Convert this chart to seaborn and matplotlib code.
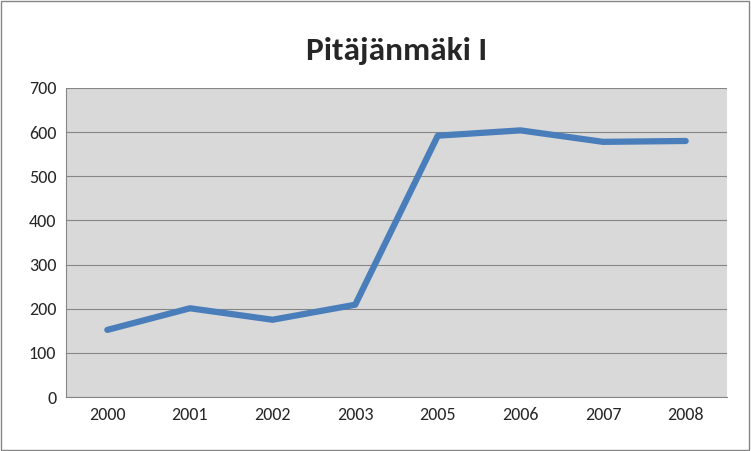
import matplotlib
matplotlib.use("Agg")
import matplotlib.pyplot as plt
import seaborn as sns
import pandas as pd

years = ["2000", "2001", "2002", "2003", "2005", "2006", "2007", "2008"]
values = [152, 201, 175, 209, 592, 604, 578, 580]
title = "Pitäjänmäki I"

sns.set_style("white")
plt.rcParams['font.family'] = ['Calibri', 'Carlito', 'Lato', 'DejaVu Sans']

df = pd.DataFrame({"year": years, "value": values})

fig = plt.figure(figsize=(7.51, 4.51), dpi=100)
ax = fig.add_axes([66 / 751, 54 / 451, 661 / 751, 309 / 451])
ax.set_facecolor("#D9D9D9")

sns.lineplot(data=df, x="year", y="value", ax=ax, color="#4A7EBB", lw=4.5, sort=False)

ax.set_xlim(-0.5, len(years) - 0.5)
ax.set_ylim(0, 700)
ax.set_yticks(range(0, 701, 100))
ax.yaxis.grid(True, color="#868686", lw=0.8)
ax.set_axisbelow(True)
ax.set_xlabel("")
ax.set_ylabel("")
ax.tick_params(labelsize=13, length=0, pad=7)
for s in ["top", "right"]:
    ax.spines[s].set_visible(False)
for s in ["left", "bottom"]:
    ax.spines[s].set_color("#868686")

ax.set_title(title, fontsize=24, fontweight="bold", pad=20)

fig.patches.append(plt.Rectangle((0.001, 0.002), 0.997, 0.996, transform=fig.transFigure,
                                 fill=False, edgecolor="#868686", lw=1))
fig.savefig("out.png", dpi=100)
